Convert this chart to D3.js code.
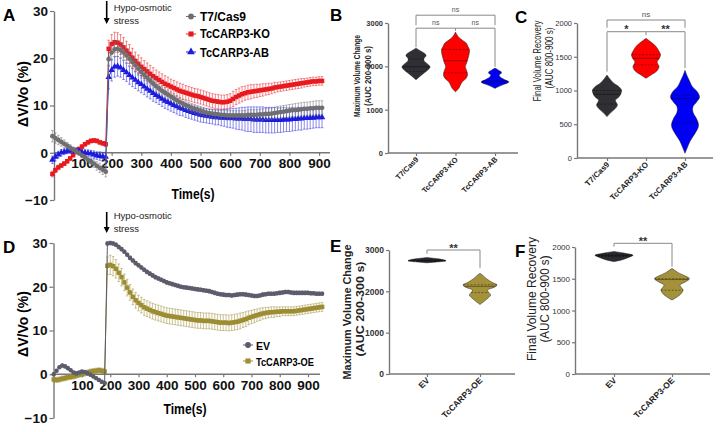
<!DOCTYPE html>
<html><head><meta charset="utf-8">
<script src="https://cdn.jsdelivr.net/npm/d3@7"></script>
<style>body{margin:0;background:#fff}svg{display:block;font-family:"Liberation Sans",Arial,sans-serif}</style>
</head><body><script>
// ---------------- DATA ----------------
const timeA = [0,10,20,30,40,50,60,70,80,90,100,110,120,130,140,150,160,170,180,190,200,210,220,230,240,250,260,270,280,290,300,310,320,330,340,350,360,370,380,390,400,410,420,430,440,450,460,470,480,490,500,510,520,530,540,550,560,570,580,590,600,610,620,630,640,650,660,670,680,690,700,710,720,730,740,750,760,770,780,790,800,810,820,830,840,850,860,870,880,890,900,910];
const timeD = [0,10,20,30,40,50,60,70,80,90,100,110,120,130,140,150,160,170,180,190,200,210,220,230,240,250,260,270,280,290,300,310,320,330,340,350,360,370,380,390,400,410,420,430,440,450,460,470,480,490,500,510,520,530,540,550,560,570,580,590,600,610,620,630,640,650,660,670,680,690,700,710,720,730,740,750,760,770,780,790,800,810,820,830,840,850,860,870,880,890,900,910,920,930,940,950];
const xTicksA = [100,200,300,400,500,600,700,800,900];
const yTicksLine = [-10,0,10,20,30];

const t7Cas9 = [3.5,3.1,2.7,2.3,1.9,1.5,1.1,0.7,0.3,-0.1,-0.6,-1.0,-1.5,-1.9,-2.3,-2.8,-3.2,-3.6,-4.0,
 19.8,21.2,21.9,22.0,21.7,21.2,20.6,19.9,19.2,18.5,
 17.8,17.1,16.5,15.9,15.3,14.7,14.1,13.6,13.1,12.7,
 12.3,11.9,11.5,11.1,10.7,10.4,10.1,9.8,9.5,9.3,
 9.1,8.9,8.7,8.5,8.4,8.3,8.2,8.1,8.0,8.0,
 7.9,7.9,7.9,7.9,7.9,7.9,7.9,8.0,8.0,8.0,
 8.0,8.1,8.1,8.2,8.2,8.3,8.4,8.5,8.6,8.7,
 8.8,8.9,9.0,9.0,9.1,9.2,9.3,9.3,9.4,9.4,
 9.5,9.5,9.5];
const t7CasErr = [1.2,1.1,1.0,0.9,0.8,0.7,0.6,0.5,0.5,0.5,0.5,0.5,0.6,0.7,0.8,0.9,1.0,1.0,1.1,
 1.5,1.6,1.6,1.6,1.6,1.5,1.5,1.5,1.4,1.4,
 1.4,1.3,1.3,1.3,1.2,1.2,1.2,1.1,1.1,1.1,
 1.0,1.0,1.0,1.0,1.0,0.9,0.9,0.9,0.9,0.9,
 0.9,0.9,0.9,0.9,0.9,0.9,0.9,0.9,0.9,0.9,
 1.0,1.0,1.0,1.0,1.0,1.0,1.0,1.1,1.1,1.1,
 1.1,1.1,1.2,1.2,1.2,1.2,1.2,1.3,1.3,1.3,
 1.3,1.3,1.3,1.4,1.4,1.4,1.4,1.4,1.4,1.5,
 1.5,1.5,1.5];
const carp3KO = [-4.5,-3.7,-3.1,-2.7,-2.3,-1.8,-1.2,-0.5,0.2,0.8,1.3,1.8,2.2,2.5,2.6,2.5,2.2,2.0,1.8,
 22.0,23.0,23.4,23.3,22.9,22.3,21.6,20.9,20.1,19.4,
 18.8,18.2,17.7,17.2,16.7,16.2,15.8,15.4,15.0,14.6,
 14.3,14.0,13.7,13.4,13.1,12.9,12.7,12.5,12.3,12.1,
 12.0,11.8,11.6,11.4,11.2,11.0,10.9,10.8,10.7,10.7,
 10.8,11.0,11.4,11.8,12.1,12.4,12.6,12.8,12.9,13.0,
 13.1,13.2,13.3,13.4,13.5,13.6,13.8,13.9,14.0,14.1,
 14.2,14.3,14.4,14.5,14.6,14.7,14.8,14.9,15.0,15.1,
 15.1,15.2,15.2];
const carp3KOErr = [0.6,0.5,0.5,0.4,0.4,0.4,0.4,0.4,0.4,0.4,0.4,0.4,0.4,0.4,0.4,0.4,0.4,0.4,0.5,
 1.8,2.0,2.1,2.1,2.1,2.1,2.0,2.0,2.0,1.9,
 1.9,1.9,1.8,1.8,1.8,1.8,1.7,1.7,1.7,1.7,
 1.7,1.6,1.6,1.6,1.6,1.6,1.5,1.5,1.5,1.5,
 1.5,1.5,1.5,1.5,1.5,1.5,1.5,1.5,1.5,1.5,
 1.5,1.5,1.6,1.6,1.6,1.6,1.5,1.5,1.5,1.4,
 1.4,1.3,1.3,1.2,1.2,1.1,1.1,1.0,1.0,1.0,
 1.0,1.0,1.0,1.0,1.0,1.0,0.9,0.9,0.9,0.9,
 0.9,0.9,0.9];
const carp3AB = [-1.5,-0.9,-0.4,0.0,0.2,0.4,0.5,0.5,0.4,0.3,0.1,0.0,-0.1,-0.2,-0.4,-0.6,-0.7,-0.8,-0.9,
 16.0,17.5,18.2,18.3,18.0,17.5,17.0,16.4,15.9,15.4,
 14.9,14.5,14.0,13.5,13.1,12.6,12.2,11.8,11.4,11.0,
 10.7,10.4,10.1,9.8,9.5,9.3,9.0,8.8,8.6,8.4,
 8.2,8.0,7.9,7.8,7.7,7.6,7.5,7.5,7.4,7.4,
 7.3,7.3,7.3,7.2,7.2,7.2,7.1,7.1,7.1,7.0,
 7.0,7.0,7.0,6.9,6.9,6.9,6.9,6.9,6.9,7.0,
 7.0,7.0,7.1,7.1,7.2,7.2,7.3,7.3,7.4,7.4,
 7.5,7.5,7.5];
const carp3ABErr = [0.8,0.8,0.7,0.7,0.6,0.6,0.6,0.6,0.6,0.6,0.6,0.6,0.7,0.7,0.8,0.8,0.9,0.9,1.0,
 2.5,2.3,2.2,2.1,2.0,2.0,1.9,1.9,1.9,1.8,
 1.8,1.8,1.7,1.7,1.7,1.7,1.6,1.6,1.6,1.6,
 1.6,1.6,1.6,1.6,1.6,1.5,1.5,1.5,1.5,1.5,
 1.5,1.5,1.5,1.5,1.5,1.5,1.6,1.6,1.7,1.8,
 1.9,2.0,2.1,2.2,2.3,2.4,2.5,2.6,2.6,2.7,
 2.7,2.7,2.7,2.7,2.7,2.7,2.7,2.6,2.6,2.6,
 2.5,2.5,2.5,2.4,2.4,2.4,2.3,2.3,2.3,2.2,
 2.2,2.2,2.2];

const evD = [0.0,0.8,1.6,2.0,1.8,1.4,0.9,0.4,0.2,0.4,0.6,0.5,0.2,-0.1,-0.5,-0.9,-1.3,-1.7,-2.0,
 29.9,30.0,29.9,29.6,29.1,28.6,28.0,27.3,26.6,26.0,
 25.4,24.9,24.4,23.9,23.4,23.0,22.6,22.2,21.9,21.6,
 21.3,21.0,20.8,20.6,20.4,20.2,20.0,19.9,19.8,19.7,
 19.6,19.5,19.4,19.3,19.2,19.1,19.0,18.8,18.6,18.4,
 18.3,18.2,18.1,18.1,18.0,18.1,18.2,18.3,18.3,18.2,
 18.1,18.0,17.9,17.9,18.0,18.2,18.3,18.4,18.4,18.4,
 18.5,18.6,18.7,18.8,18.8,18.7,18.6,18.6,18.6,18.6,
 18.6,18.6,18.5,18.5,18.4,18.4,18.4];
const evDErr = [0.3,0.3,0.3,0.3,0.3,0.3,0.3,0.3,0.3,0.3,0.3,0.3,0.3,0.3,0.3,0.3,0.3,0.3,0.3,
 0.4,0.4,0.4,0.4,0.4,0.4,0.4,0.4,0.4,0.4,
 0.4,0.4,0.4,0.4,0.4,0.4,0.4,0.4,0.4,0.4,
 0.4,0.4,0.4,0.4,0.4,0.4,0.4,0.4,0.4,0.4,
 0.4,0.4,0.4,0.4,0.4,0.4,0.4,0.4,0.4,0.4,
 0.4,0.4,0.4,0.4,0.4,0.4,0.4,0.4,0.4,0.4,
 0.4,0.4,0.4,0.4,0.4,0.4,0.4,0.4,0.4,0.4,
 0.4,0.4,0.4,0.4,0.4,0.4,0.4,0.4,0.4,0.4,
 0.4,0.4,0.4,0.4,0.4,0.4,0.4];
const oeD = [-1.2,-1.3,-1.2,-1.0,-0.9,-0.7,-0.6,-0.5,-0.3,-0.1,0.0,0.2,0.4,0.6,0.7,0.8,0.9,0.8,0.6,
 24.8,25.0,24.7,24.1,23.2,22.2,21.0,19.8,18.7,17.7,
 16.9,16.3,15.8,15.3,15.0,14.7,14.4,14.2,14.0,13.8,
 13.6,13.4,13.3,13.2,13.1,13.0,12.9,12.8,12.7,12.6,
 12.5,12.4,12.3,12.3,12.2,12.2,12.2,12.1,12.0,11.9,
 11.8,11.8,11.8,11.7,11.8,11.9,12.0,12.2,12.4,12.6,
 12.9,13.1,13.3,13.5,13.7,13.9,14.0,14.1,14.2,14.2,
 14.3,14.3,14.4,14.4,14.4,14.4,14.4,14.5,14.6,14.7,
 14.8,14.9,15.0,15.1,15.2,15.3,15.4];
const oeDErr = [0.6,0.6,0.6,0.6,0.6,0.6,0.6,0.6,0.6,0.6,0.6,0.6,0.6,0.6,0.6,0.6,0.6,0.6,0.6,
 2.0,2.2,2.2,2.1,2.0,2.0,1.9,1.9,1.8,1.8,
 1.8,1.8,1.8,1.8,1.8,1.8,1.8,1.8,1.8,1.8,
 1.8,1.8,1.8,1.8,1.8,1.8,1.8,1.8,1.8,1.8,
 1.8,1.8,1.8,1.8,1.8,1.8,1.8,1.8,1.8,1.8,
 1.8,1.8,1.8,1.8,1.8,1.8,1.8,1.8,1.7,1.7,
 1.6,1.5,1.5,1.4,1.4,1.3,1.3,1.2,1.2,1.2,
 1.1,1.1,1.0,1.0,1.0,1.0,1.0,1.0,1.0,1.0,
 1.0,1.0,1.0,1.0,1.0,1.0,1.0];

// Violin profiles: [value, relative density]
const groupsBC = ["T7/Cas9","TcCARP3-KO","TcCARP3-AB"];
const groupsEF = ["EV","TcCARP3-OE"];
const violinB_T7 = [[1690,0],[1760,0.25],[1850,0.6],[1930,0.9],[1990,1.0],[2060,0.8],[2130,0.57],[2180,0.57],[2250,0.72],[2300,0.6],[2360,0.3],[2420,0]];
const violinB_KO = [[1410,0],[1500,0.25],[1640,0.47],[1720,0.75],[1800,0.86],[1900,0.8],[1990,0.7],[2080,0.8],[2146,0.86],[2250,0.95],[2380,1.0],[2450,0.9],[2530,0.78],[2600,0.5],[2650,0.3],[2720,0.12],[2790,0]];
const violinB_AB = [[1490,0],[1540,0.3],[1590,0.7],[1640,1.0],[1690,0.7],[1760,0.35],[1800,0.3],[1840,0.45],[1870,0.45],[1910,0.25],[1960,0]];
const quartB = [[1880,1990,2170],[1850,2130,2390],[1620,1660,1760]];
const violinC_T7 = [[612,0],[680,0.3],[740,0.6],[785,0.72],[830,0.62],[860,0.58],[900,0.8],[950,0.95],[1007,1.0],[1060,0.8],[1110,0.45],[1170,0.2],[1230,0]];
const violinC_KO = [[1180,0],[1230,0.35],[1290,0.75],[1352,0.9],[1400,0.8],[1427,0.77],[1470,0.9],[1526,1.0],[1580,0.9],[1650,0.7],[1700,0.45],[1740,0.2],[1773,0]];
const violinC_AB = [[70,0],[150,0.15],[250,0.35],[350,0.65],[450,0.9],[500,0.93],[580,0.8],[680,0.55],[760,0.55],[830,0.8],[900,1.0],[980,0.85],[1060,0.5],[1156,0.28],[1230,0.12],[1300,0]];
const quartC = [[800,944,1000],[1380,1477,1530],[520,880,930]];
const violinE_EV = [[2690,0],[2710,0.5],[2740,1.0],[2770,0.8],[2800,0.35],[2820,0]];
const violinE_OE = [[1680,0],[1760,0.22],[1850,0.45],[1911,0.56],[1980,0.45],[2032,0.4],[2100,0.76],[2153,0.9],[2220,0.63],[2300,0.36],[2380,0.16],[2436,0]];
const quartE = [[2725,2740,2760],[1970,2120,2160]];
const violinF_EV = [[1770,0],[1800,0.45],[1840,0.8],[1870,1.0],[1900,0.6],[1930,0]];
const violinF_OE = [[1165,0],[1220,0.3],[1280,0.52],[1323,0.58],[1370,0.47],[1402,0.42],[1450,0.7],[1500,0.92],[1550,0.65],[1600,0.3],[1665,0]];
const quartF = [[1850,1865,1880],[1320,1490,1500]];

const ticksB = [0,1000,2000,3000], ticksC = [0,500,1000,1500,2000];
const ticksE = [0,1000,2000,3000], ticksF = [0,500,1000,1500,2000];

// ---------------- DRAW ----------------
const svg = d3.select("body").append("svg").attr("width",720).attr("height",432);

function addText(p, str, x, y, o={}) {
  const t = p.append("text").attr("x",x).attr("y",y).text(str)
    .attr("font-size",o.size||10).attr("font-weight",o.bold?"bold":"normal")
    .attr("fill",o.fill||"#000").attr("text-anchor",o.anchor||"start");
  if (o.len) t.attr("textLength",o.len).attr("lengthAdjust","spacingAndGlyphs");
  if (o.rot) t.attr("transform",`rotate(${o.rot},${x},${y})`);
  return t;
}
function styleAxis(a, fs, color) {
  a.select(".domain").attr("stroke",color||"#777").attr("stroke-width",1.4);
  a.selectAll(".tick line").attr("stroke",color||"#777").attr("stroke-width",1.2);
  a.selectAll(".tick text").attr("font-size",fs).attr("font-weight","bold").attr("fill","#111")
    .attr("font-family","Liberation Sans, Arial, sans-serif");
}

function lineChart(c) {
  const g = svg.append("g");
  const x = d3.scaleLinear().domain(c.xDomain).range(c.xRange);
  const y = d3.scaleLinear().domain([-10,30]).range(c.yRange);
  const ya = g.append("g").attr("transform",`translate(${c.yAxisX},0)`)
    .call(d3.axisLeft(y).tickValues(yTicksLine).tickSize(4).tickPadding(2).tickSizeOuter(0));
  styleAxis(ya, 13.5);
  const xa = g.append("g").attr("transform",`translate(0,${y(0)})`)
    .call(d3.axisBottom(x).tickValues(xTicksA).tickSize(3).tickPadding(3).tickSizeOuter(0));
  styleAxis(xa, 13.5);
  xa.select(".domain").remove();
  g.append("line").attr("x1",c.yAxisX).attr("x2",c.xEnd).attr("y1",y(0)).attr("y2",y(0))
    .attr("stroke","#777").attr("stroke-width",1.4);
  c.series.forEach(s => {
    const pts = c.time.map((t,i)=>({t, v:s.values[i], e:s.err[i]})).filter(d=>d.v!==undefined);
    const eg = g.append("g").attr("stroke",s.color).attr("stroke-width",0.6).attr("opacity",0.85);
    pts.forEach(d => {
      eg.append("line").attr("x1",x(d.t)).attr("x2",x(d.t)).attr("y1",y(d.v-d.e)).attr("y2",y(d.v+d.e));
      eg.append("line").attr("x1",x(d.t)-1.3).attr("x2",x(d.t)+1.3).attr("y1",y(d.v+d.e)).attr("y2",y(d.v+d.e));
      eg.append("line").attr("x1",x(d.t)-1.3).attr("x2",x(d.t)+1.3).attr("y1",y(d.v-d.e)).attr("y2",y(d.v-d.e));
    });
    g.append("path").datum(pts).attr("fill","none").attr("stroke",s.color).attr("stroke-width",1)
      .attr("d", d3.line().x(d=>x(d.t)).y(d=>y(d.v)));
    const sym = d3.symbol().type(s.symbol).size(s.size||18);
    g.append("g").selectAll("path").data(pts).join("path")
      .attr("transform",d=>`translate(${x(d.t)},${y(d.v)})`).attr("d",sym).attr("fill",s.color);
  });
  c.legend.forEach(l => {
    const s = c.series.find(q=>q.name===l.name);
    g.append("line").attr("x1",l.x-5).attr("x2",l.x+5).attr("y1",l.y).attr("y2",l.y).attr("stroke",s.color).attr("stroke-width",1);
    g.append("path").attr("transform",`translate(${l.x},${l.y})`).attr("d",d3.symbol().type(s.symbol).size(26)()).attr("fill",s.color);
    addText(g, s.name, l.tx, l.ty, {size:l.size, bold:true, len:l.len});
  });
  addText(g, "Time(s)", c.titleX, c.titleY, {size:15, bold:true, anchor:"middle", len:43});
  addText(g, "\u0394V/Vo (%)", c.ylabX, c.ylabY, {size:14, bold:true, anchor:"middle", rot:-90});
  g.append("line").attr("x1",c.arrowX).attr("x2",c.arrowX).attr("y1",c.arrowY0).attr("y2",c.arrowY1-5)
    .attr("stroke","#000").attr("stroke-width",1.6);
  g.append("path").attr("d",`M${c.arrowX-3},${c.arrowY1-6}L${c.arrowX+3},${c.arrowY1-6}L${c.arrowX},${c.arrowY1}Z`).attr("fill","#000");
  addText(g, "Hypo-osmotic", c.arrowX+7, c.hypoY, {size:9.5, fill:"#222"});
  addText(g, "stress", c.arrowX+7, c.hypoY+13, {size:9.5, fill:"#222"});
}

lineChart({
  time: timeA, xDomain:[0,920], xRange:[52.4,325], yRange:[200,11], yAxisX:54, xEnd:330,
  series:[
    {name:"TcCARP3-KO", values:carp3KO, err:carp3KOErr, color:"#e8191f", symbol:d3.symbolSquare, size:20},
    {name:"TcCARP3-AB", values:carp3AB, err:carp3ABErr, color:"#1c1ce0", symbol:d3.symbolTriangle, size:18},
    {name:"T7/Cas9", values:t7Cas9, err:t7CasErr, color:"#6f6f72", symbol:d3.symbolCircle, size:18}
  ],
  legend:[
    {name:"T7/Cas9", x:191, y:16.5, tx:200, ty:20.5, size:12},
    {name:"TcCARP3-KO", x:191, y:34, tx:200, ty:38, size:12, len:70},
    {name:"TcCARP3-AB", x:191, y:52, tx:200, ty:56.5, size:12, len:69}
  ],
  titleX:193, titleY:199, ylabX:28, ylabY:94,
  arrowX:106.7, arrowY0:1, arrowY1:24, hypoY:11
});

lineChart({
  time: timeD, xDomain:[0,950], xRange:[53.75,322.1], yRange:[418,243], yAxisX:53.5, xEnd:320,
  series:[
    {name:"TcCARP3-OE", values:oeD, err:oeDErr, color:"#9c8c32", symbol:d3.symbolSquare, size:20},
    {name:"EV", values:evD, err:evDErr, color:"#5c5c6c", symbol:d3.symbolCircle, size:16}
  ],
  legend:[
    {name:"EV", x:248, y:345, tx:256, ty:349.5, size:10.5},
    {name:"TcCARP3-OE", x:248, y:361, tx:256, ty:365.5, size:10.5, len:58}
  ],
  titleX:185, titleY:414, ylabX:28, ylabY:324,
  arrowX:106.7, arrowY0:212, arrowY1:233, hypoY:219
});

function widthAt(profile, v) {
  for (let i=1;i<profile.length;i++) {
    if (v<=profile[i][0]) { const [a,wa]=profile[i-1],[b,wb]=profile[i]; return wa+(wb-wa)*(v-a)/(b-a); }
  }
  return 0;
}

function violinChart(c) {
  const g = svg.append("g");
  const y = d3.scaleLinear().domain(c.yDomain).range(c.yRange);
  const x = d3.scalePoint().domain(c.groups).range(c.xRange);
  const w = d3.scaleLinear().domain([0,1]).range([0,c.maxHalf]);
  const ya = g.append("g").attr("transform",`translate(${c.axisX},0)`)
    .call(d3.axisLeft(y).tickValues(c.ticks).tickFormat(d3.format("d")).tickSize(3).tickPadding(2).tickSizeOuter(0));
  styleAxis(ya, c.tickSize);
  ya.selectAll(".tick text").attr("fill","#333").attr("font-weight", c.tickBold?"bold":"normal");
  const xa = g.append("g").attr("transform",`translate(0,${y(0)})`)
    .call(d3.axisBottom(x).tickSize(3).tickFormat("").tickSizeOuter(0));
  styleAxis(xa, 8);
  xa.select(".domain").remove();
  g.append("line").attr("x1",c.axisX).attr("x2",c.xEnd).attr("y1",y(0)).attr("y2",y(0)).attr("stroke","#777").attr("stroke-width",1.4);
  c.groups.forEach((name,i) => {
    const cx = x(name), prof = c.profiles[i];
    const area = d3.area().curve(d3.curveCatmullRom.alpha(0.5))
      .y(d=>y(d[0])).x0(d=>cx-w(d[1])).x1(d=>cx+w(d[1]));
    g.append("path").datum(prof).attr("d",area).attr("fill",c.colors[i]).attr("stroke","#222").attr("stroke-width",0.5);
    c.quart[i].forEach((q,k) => {
      const hw = w(widthAt(prof,q));
      g.append("line").attr("x1",cx-hw).attr("x2",cx+hw).attr("y1",y(q)).attr("y2",y(q))
        .attr("stroke", "#000").attr("stroke-opacity",0.55).attr("stroke-width",0.7)
        .attr("stroke-dasharray", k===1?null:"2,1.5");
    });
    addText(g, name, cx+3, y(0)+7, {size:c.labSize, bold:true, anchor:"end", rot:-45, fill:"#222"});
  });
  c.brackets.forEach(b => {
    const x1 = x(c.groups[b.a]), x2 = x(c.groups[b.b]);
    g.append("path").attr("d",`M${x1},${y(b.leg1)}V${y(b.level)}H${x2}V${y(b.leg2)}`)
      .attr("fill","none").attr("stroke","#888").attr("stroke-width",1);
    if (b.mid!==undefined) {
      const xm = x(c.groups[b.midIdx]);
      g.append("line").attr("x1",xm).attr("x2",xm).attr("y1",y(b.level)).attr("y2",y(b.mid)).attr("stroke","#888").attr("stroke-width",1);
    }
    b.labels.forEach(l => {
      const xa_ = x(c.groups[l.a]), xb_ = x(c.groups[l.b]);
      addText(g, l.text, (xa_+xb_)/2, y(b.level)-l.dy, {size:l.size, bold:l.bold, anchor:"middle", fill:l.fill||"#333"});
    });
  });
  c.ylab.forEach(l => addText(g, l.text, l.x, l.y, {size:l.size, bold:l.bold, anchor:"middle", rot:-90, len:l.len, fill:"#222"}));
}

violinChart({
  groups: groupsBC, yDomain:[0,3000], yRange:[153,23], xRange:[416,495], axisX:388, xEnd:518, maxHalf:14,
  ticks: ticksB, tickSize:7.5, tickBold:true, labSize:7.5,
  profiles:[violinB_T7, violinB_KO, violinB_AB], quart: quartB, colors:["#2f2f34","#ff0000","#0000f5"],
  brackets:[
    {a:0,b:2,level:3180,leg1:2950,leg2:2950,labels:[{a:0,b:2,text:"ns",dy:3,size:7,fill:"#555"}]},
    {a:0,b:2,level:2880,leg1:2440,leg2:1990,mid:2820,midIdx:1,labels:[{a:0,b:1,text:"ns",dy:3,size:7,fill:"#555"},{a:1,b:2,text:"ns",dy:3,size:7,fill:"#555"}]}
  ],
  ylab:[{text:"Maximum Volume Change", x:360, y:76, size:9.5, bold:true, len:82},
        {text:"(AUC 200-300 s)", x:371, y:76, size:9.5, bold:true, len:60}]
});

violinChart({
  groups: groupsBC, yDomain:[0,2000], yRange:[158,23], xRange:[607,685], axisX:577, xEnd:713, maxHalf:14.5,
  ticks: ticksC, tickSize:7.5, tickBold:false, labSize:8,
  profiles:[violinC_T7, violinC_KO, violinC_AB], quart: quartC, colors:["#2f2f34","#ff0000","#0000f5"],
  brackets:[
    {a:0,b:2,level:2044,leg1:1930,leg2:1930,labels:[{a:0,b:2,text:"ns",dy:3,size:8,fill:"#555"}]},
    {a:0,b:2,level:1871,leg1:1280,leg2:1330,mid:1820,midIdx:1,labels:[{a:0,b:1,text:"*",dy:-1,size:11,bold:true,fill:"#333"},{a:1,b:2,text:"**",dy:-1,size:11,bold:true,fill:"#333"}]}
  ],
  ylab:[{text:"Final Volume Recovery", x:541, y:61, size:10, bold:false, len:81},
        {text:"(AUC 800-900 s)", x:553, y:58, size:10, bold:false, len:61}]
});

violinChart({
  groups: groupsEF, yDomain:[0,3000], yRange:[374,250], xRange:[427,480], axisX:389, xEnd:515, maxHalf:19,
  ticks: ticksE, tickSize:8.5, tickBold:true, labSize:8.5,
  profiles:[violinE_EV, violinE_OE], quart: quartE, colors:["#2a2a30","#a3923a"],
  brackets:[
    {a:0,b:1,level:3000,leg1:2910,leg2:2560,labels:[{a:0,b:1,text:"**",dy:-2,size:11,bold:true,fill:"#333"}]}
  ],
  ylab:[{text:"Maximum Volume Change", x:351, y:312, size:11, bold:true, len:135},
        {text:"(AUC 200-300 s)", x:364, y:309, size:11, bold:true, len:95}]
});

violinChart({
  groups: groupsEF, yDomain:[0,2000], yRange:[374,247], xRange:[614,672], axisX:575, xEnd:710, maxHalf:19,
  ticks: ticksF, tickSize:8, tickBold:false, labSize:8.5,
  profiles:[violinF_EV, violinF_OE], quart: quartF, colors:["#2a2a30","#a3923a"],
  brackets:[
    {a:0,b:1,level:2058,leg1:2005,leg2:1690,labels:[{a:0,b:1,text:"**",dy:-2,size:11,bold:true,fill:"#333"}]}
  ],
  ylab:[{text:"Final Volume Recovery", x:536, y:299, size:12, bold:false, len:124},
        {text:"(AUC 800-900 s)", x:549, y:299, size:12, bold:false, len:87}]
});

// panel letters
[["A",3,21],["B",330,21],["C",515,23],["D",3,253],["E",330,252],["F",515,257]].forEach(([t,x,y]) =>
  addText(svg, t, x, y, {size:17, bold:true}));
</script></body></html>
